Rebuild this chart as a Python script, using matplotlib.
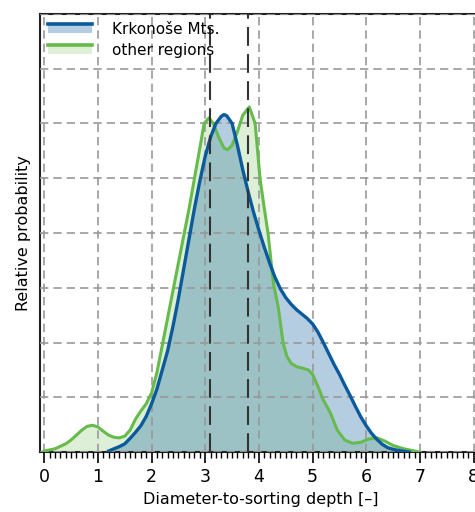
import matplotlib.pyplot as plt
import numpy as np
from matplotlib.patches import Patch, Rectangle
from matplotlib.lines import Line2D
from matplotlib.ticker import MultipleLocator

# density curves (y in 0.1 units of the grid)
krk_x = [1.2, 1.3, 1.4, 1.5, 1.6, 1.7, 1.8, 1.9, 2.0, 2.1, 2.2, 2.3, 2.4, 2.5, 2.6,
         2.7, 2.8, 2.9, 3.0, 3.1, 3.2, 3.3, 3.35, 3.4, 3.5, 3.6, 3.7, 3.8, 3.9, 4.0,
         4.1, 4.2, 4.3, 4.4, 4.5, 4.6, 4.7, 4.8, 4.9, 5.0, 5.1, 5.2, 5.3, 5.4, 5.5,
         5.6, 5.7, 5.8, 5.9, 6.0, 6.1, 6.2, 6.3, 6.4, 6.5, 6.6, 6.8]
krk_y = [0.02, 0.06, 0.10, 0.15, 0.25, 0.36, 0.48, 0.65, 0.88, 1.15, 1.5, 1.85, 2.3,
         2.8, 3.35, 3.9, 4.45, 4.95, 5.4, 5.75, 6.0, 6.13, 6.16, 6.14, 6.0, 5.6, 5.15,
         4.75, 4.38, 4.05, 3.74, 3.45, 3.19, 2.98, 2.82, 2.7, 2.6, 2.52, 2.44, 2.34,
         2.19, 2.0, 1.8, 1.6, 1.42, 1.22, 1.03, 0.83, 0.64, 0.48, 0.34, 0.23, 0.14,
         0.08, 0.05, 0.03, 0.0]

oth_x = [0.0, 0.2, 0.4, 0.5, 0.6, 0.7, 0.8, 0.9, 1.0, 1.1, 1.2, 1.3, 1.4, 1.5, 1.6,
         1.7, 1.8, 1.9, 2.0, 2.1, 2.2, 2.3, 2.4, 2.5, 2.6, 2.7, 2.8, 2.9, 2.98, 3.07,
         3.15, 3.25, 3.35, 3.42, 3.5, 3.6, 3.7, 3.82, 3.93, 4.02, 4.1, 4.17, 4.27,
         4.36, 4.45, 4.52, 4.6, 4.7, 4.82, 4.92, 5.0, 5.1, 5.2, 5.33, 5.46, 5.6, 5.75,
         5.9, 6.05, 6.2, 6.35, 6.5, 6.7, 6.9, 7.0]
oth_y = [0.02, 0.06, 0.15, 0.22, 0.31, 0.40, 0.47, 0.49, 0.46, 0.38, 0.31, 0.27,
         0.26, 0.29, 0.40, 0.6, 0.75, 0.88, 1.08, 1.45, 1.95, 2.45, 2.95, 3.45, 3.95,
         4.45, 5.0, 5.55, 6.0, 6.1, 6.0, 5.75, 5.55, 5.52, 5.6, 5.85, 6.15, 6.3, 6.0,
         5.0, 4.45, 4.0, 3.08, 2.65, 2.0, 1.75, 1.62, 1.56, 1.53, 1.5, 1.42, 1.2, 0.95,
         0.72, 0.4, 0.22, 0.16, 0.18, 0.24, 0.26, 0.2, 0.12, 0.06, 0.02, 0.0]

medians = [3.08, 3.79]
labels = ['Krkonoše Mts.', 'other regions']

blue = '#0b5a9c'
green = '#66bb4c'

krk_y = np.array(krk_y) / 10
oth_y = np.array(oth_y) / 10


class FillLineHandler:
    # legend key: line on top of a light filled box
    def legend_artist(self, legend, orig_handle, fontsize, handlebox):
        x0, y0 = handlebox.xdescent, handlebox.ydescent
        w, h = handlebox.width, handlebox.height
        c = orig_handle.get_facecolor()
        r = Rectangle((x0, y0 - 0.1 * h), w, 0.65 * h, facecolor=c[:3], alpha=orig_handle.get_alpha(),
                      lw=0, transform=handlebox.get_transform())
        ln = Line2D([x0, x0 + w], [y0 + 0.55 * h] * 2, color=c[:3], lw=2.6,
                    transform=handlebox.get_transform())
        handlebox.add_artist(r)
        handlebox.add_artist(ln)
        return r


fig = plt.figure(figsize=(4.75, 5.12), dpi=100)
ax = fig.add_axes([0.084, 0.117, 0.93, 0.856])

ax.fill_between(oth_x, oth_y, color=green, alpha=0.22, lw=0, zorder=1)
ax.fill_between(krk_x, krk_y, color=blue, alpha=0.3, lw=0, zorder=1.1)
ax.plot(oth_x, oth_y, color=green, lw=2.2, zorder=3)
ax.plot(krk_x, krk_y, color=blue, lw=2.4, zorder=3.1)
for m in medians:
    ax.axvline(m, color='#333333', lw=1.5, dashes=(9, 4), zorder=3.2)

ax.set_xlim(-0.08, 8.15)
ax.set_ylim(0, 0.8)
ax.xaxis.set_major_locator(MultipleLocator(1))
ax.xaxis.set_minor_locator(MultipleLocator(0.1))
ax.yaxis.set_major_locator(MultipleLocator(0.1))
ax.set_yticklabels([])
ax.tick_params(axis='y', length=0)
ax.tick_params(axis='x', which='major', length=8, width=1.2, labelsize=12.5)
ax.tick_params(axis='x', which='minor', length=4, width=1.0)
ax.set_axisbelow(False)
ax.grid(True, color='#999999', lw=1.2, ls=(0, (5, 3)), zorder=2)
for s in ['left', 'bottom', 'top']:
    ax.spines[s].set_linewidth(1.5)
    ax.spines[s].set_color('#222222')
ax.spines['right'].set_visible(False)

ax.set_xlabel('Diameter-to-sorting depth [–]', fontsize=11.5, labelpad=4)
ax.set_ylabel('Relative probability', fontsize=11.5, labelpad=3)

h1 = Patch(facecolor=blue, alpha=0.3)
h2 = Patch(facecolor=green, alpha=0.22)
ax.legend([h1, h2], labels, loc='upper left', frameon=False, fontsize=11,
          handlelength=2.9, handleheight=1.1, handletextpad=1.3,
          borderaxespad=0.2, borderpad=0.3, labelspacing=0.35,
          handler_map={h1: FillLineHandler(), h2: FillLineHandler()})

fig.savefig('out.png', dpi=100)
